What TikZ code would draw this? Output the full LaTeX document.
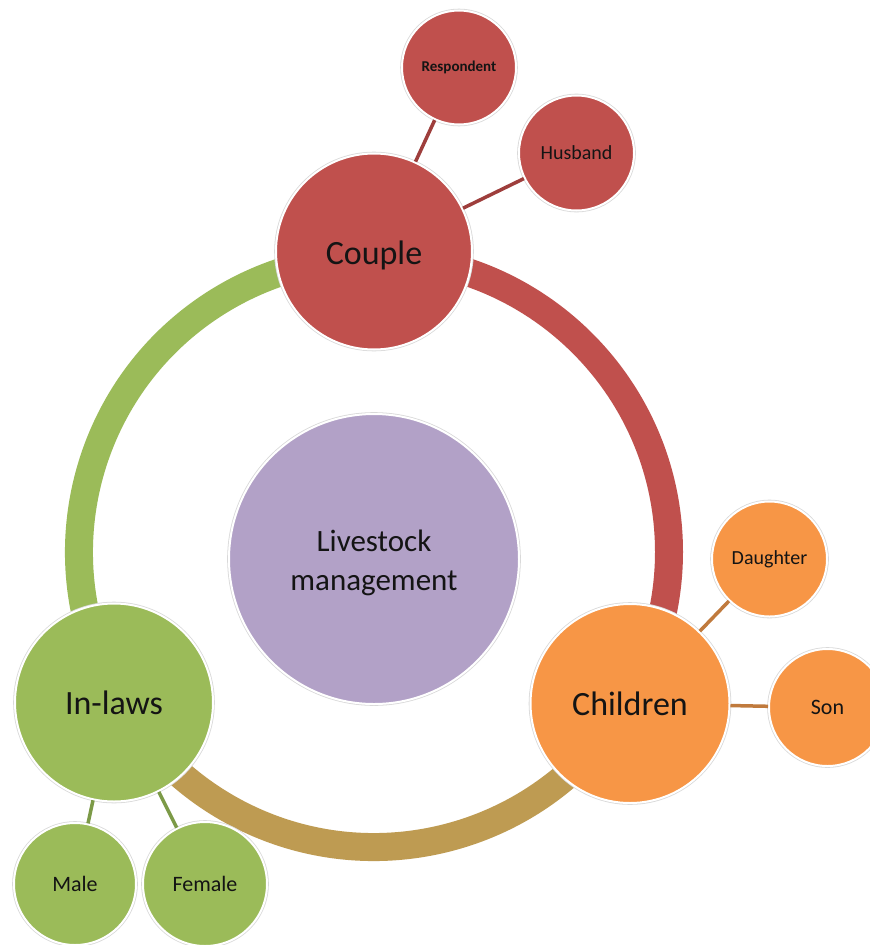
\documentclass[tikz,border=0pt]{standalone}
\usepackage{fontspec}
\setmainfont{Carlito}
\definecolor{cred}{HTML}{C0504D}
\definecolor{corange}{HTML}{F79646}
\definecolor{cgreen}{HTML}{9BBB59}
\definecolor{cpurple}{HTML}{B2A1C7}
\definecolor{ctan}{HTML}{BE9B52}
\definecolor{credline}{HTML}{9E3E3C}
\definecolor{corangeline}{HTML}{C07A3D}
\definecolor{cgreenline}{HTML}{7C9A47}
\definecolor{ctext}{HTML}{141414}
\begin{document}
\begin{tikzpicture}[x=1pt,y=-1pt,
  bubble/.style={circle, inner sep=0pt, text=ctext, align=center, draw=white, line width=2pt,
    preaction={draw=black!15, line width=3.6pt}},
  bigfont/.style={font=\fontsize{34}{40}\selectfont},
  smallfont/.style={font=\fontsize{20}{24}\selectfont},
  smallerfont/.style={font=\fontsize{22}{26}\selectfont},
  ringseg/.style={line width=28pt, line cap=butt},
  link/.style={line width=3.5pt}]
\useasboundingbox (0,0) rectangle (870,945);
\fill[white] (0,0) rectangle (870,945);
\coordinate (rc) at (374,552);
% ring
\draw[ringseg, cred]   (rc) ++(-90:295) arc[start angle=-90, end angle=30, radius=295];
\draw[ringseg, ctan]   (rc) ++(30:295)  arc[start angle=30, end angle=150, radius=295];
\draw[ringseg, cgreen] (rc) ++(150:295) arc[start angle=150, end angle=270, radius=295];
% main circles
\node[bubble, fill=cpurple, minimum size=290pt,
  label={[yshift=-4pt, text=ctext, align=center, font=\fontsize{31}{39}\selectfont]center:Livestock\\management}] (center) at (374,559) {};
\node[bubble, fill=cred, minimum size=196pt,
  label={[yshift=-4pt, text=ctext, bigfont]center:Couple}] (couple) at (374,251.5) {};
\node[bubble, fill=corange, minimum size=199pt, bigfont] (children) at (630,703.5) {Children};
\node[bubble, fill=cgreen, minimum size=198pt, bigfont] (inlaws) at (114,702.5) {In-laws};
% satellites
\node[bubble, fill=cred, minimum size=114pt, font=\fontsize{15}{18}\selectfont\bfseries] (resp) at (459,67.5) {Respondent};
\node[bubble, fill=cred, minimum size=115pt, smallfont] (husband) at (576.5,153) {Husband};
\node[bubble, fill=corange, minimum size=115pt, smallfont] (daughter) at (769.5,559) {Daughter};
\node[bubble, fill=corange, minimum size=117pt, smallerfont] (son) at (827.5,707.5) {Son};
\node[bubble, fill=cgreen, minimum size=122pt, smallerfont] (male) at (75,884) {Male};
\node[bubble, fill=cgreen, minimum size=124pt, smallerfont] (female) at (205,884) {Female};
% connectors
\draw[link, credline] (couple) -- (resp);
\draw[link, credline] (couple) -- (husband);
\draw[link, corangeline] (children) -- (daughter);
\draw[link, corangeline] (children) -- (son);
\draw[link, cgreenline] (inlaws) -- (male);
\draw[link, cgreenline] (inlaws) -- (female);
\end{tikzpicture}
\end{document}
